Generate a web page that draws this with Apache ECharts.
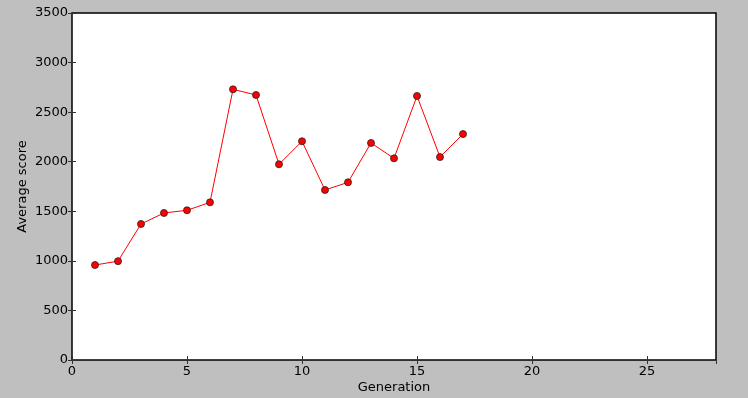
<!DOCTYPE html>
<html><head><meta charset="utf-8">
<script src="https://cdn.jsdelivr.net/npm/echarts@6/dist/echarts.min.js"></script>
<style>html,body{margin:0;padding:0;background:#bfbfbf;overflow:hidden}#c{width:748px;height:398px}</style>
</head><body><div id="c"></div>
<script>
var generations = [1,2,3,4,5,6,7,8,9,10,11,12,13,14,15,16,17];
var avgScores = [958,997,1372,1483,1510,1590,2730,2673,1974,2206,1715,1792,2189,2034,2663,2047,2279];
var xTickLabels = ['0','5','10','15','20','25'];
var yTickLabels = ['0','500','1000','1500','2000','2500','3000','3500'];

var font = 'DejaVu Sans';
var chart = echarts.init(document.getElementById('c'));
function tick(){ return {show:true, inside:true, length:4, lineStyle:{color:'#333', width:1}}; }
var gridBox = {left:72, right:32, top:13, bottom:38, containLabel:false, outerBoundsMode:'none'};
var points = generations.map(function(g,i){return [g, avgScores[i]];});
chart.setOption({
  backgroundColor:'#bfbfbf',
  animation:false,
  grid:[
    Object.assign({show:true, backgroundColor:'#fff', borderColor:'#000', borderWidth:1.5, z:0}, gridBox),
    Object.assign({show:false, z:3}, gridBox)
  ],
  xAxis:[{
    gridIndex:0, type:'value', min:0, max:28, interval:5, position:'bottom',
    name:'Generation', nameLocation:'middle', nameGap:21, nameMoveOverlap:false,
    nameTextStyle:{fontFamily:font, fontSize:13, color:'#000'},
    axisLine:{show:false}, splitLine:{show:false}, axisTick:tick(),
    axisLabel:{fontFamily:font, fontSize:13, color:'#000', margin:5, showMaxLabel:false,
      formatter:function(v){ var i = xTickLabels.indexOf(String(v)); return i>=0 ? xTickLabels[i] : ''; }}
  },{
    gridIndex:1, show:true, type:'value', min:0, max:28, interval:5, position:'top',
    axisLine:{show:false}, splitLine:{show:false}, axisTick:tick(), axisLabel:{show:false}
  }],
  yAxis:[{
    gridIndex:0, type:'value', min:0, max:3500, interval:500, position:'left',
    name:'Average score', nameLocation:'middle', nameGap:43, nameRotate:90, nameMoveOverlap:false,
    nameTextStyle:{fontFamily:font, fontSize:13, color:'#000'},
    axisLine:{show:false}, splitLine:{show:false}, axisTick:tick(),
    axisLabel:{fontFamily:font, fontSize:13, color:'#000', margin:4,
      formatter:function(v){ var i = yTickLabels.indexOf(String(v)); return i>=0 ? yTickLabels[i] : ''; }}
  },{
    gridIndex:1, show:true, type:'value', min:0, max:3500, interval:500, position:'right',
    axisLine:{show:false}, splitLine:{show:false}, axisTick:tick(), axisLabel:{show:false}
  }],
  series:[{
    type:'line', xAxisIndex:0, yAxisIndex:0,
    data: points,
    lineStyle:{color:'#ff0000', width:1},
    symbol:'circle', symbolSize:7,
    itemStyle:{color:'#ff0000', borderColor:'#222', borderWidth:0.8}
  },{
    type:'line', xAxisIndex:1, yAxisIndex:1, data:points, silent:true, symbol:'none',
    lineStyle:{opacity:0, width:0}
  }]
});
</script></body></html>
